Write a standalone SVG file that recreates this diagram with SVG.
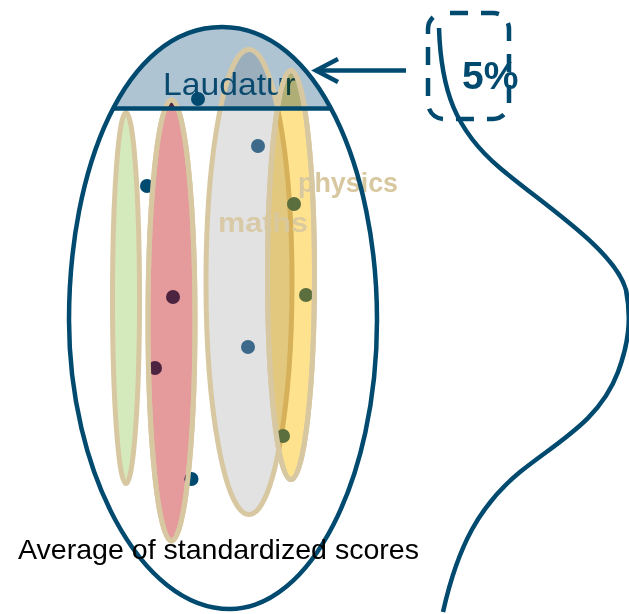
<svg xmlns="http://www.w3.org/2000/svg" width="629" height="614" viewBox="0 0 629 614">
<style>
.blue{stroke:#004a70;fill:none;stroke-width:4.5}
.ell{stroke:#d7c8a2;stroke-width:5}
.mul{mix-blend-mode:multiply}
.dot{stroke:none}
.lbl{font-family:"Liberation Sans",Arial,sans-serif;font-weight:bold;fill:#d8c8a0}
.txt{font-family:"Liberation Sans",Arial,sans-serif}
</style>
<defs>
<path id="egg" d="M222,27 C318,27 377,170 377,320 C377,480 310,609 230,609 C140,609 69,470 69,320 C69,170 124,27 222,27 Z"/>
<clipPath id="eggClip"><use href="#egg"/></clipPath>
<clipPath id="redClip"><ellipse cx="171.5" cy="320.5" rx="23.5" ry="220.5"/></clipPath>
<clipPath id="capClip"><rect x="0" y="0" width="629" height="108.5"/></clipPath>
</defs>

<g id="laudatur-cap">
<rect x="60" y="0" width="330" height="108.5" fill="#afc4d3" clip-path="url(#eggClip)"/>
</g>

<g id="green-ellipse"><ellipse class="ell" cx="126" cy="298" rx="13.5" ry="185.5" fill="#d5eabc"/></g>
<g id="red-ellipse">
<ellipse class="ell" cx="171.5" cy="320.5" rx="23.5" ry="220.5" fill="#e59b9c"/>
<g clip-path="url(#capClip)"><ellipse cx="171.5" cy="320.5" rx="21" ry="218" fill="#4c2440"/></g>
</g>
<g id="grey-ellipse">
<ellipse class="mul" cx="249" cy="282" rx="43" ry="232.5" fill="#e2e2e2"/>
<ellipse class="ell" cx="249" cy="282" rx="43" ry="232.5" fill="none"/>
</g>

<g id="laudatur-label">
<text class="txt" x="163" y="95" font-size="32" fill="#0b4a6f" textLength="133" lengthAdjust="spacingAndGlyphs">Laudatur</text>
</g>

<g id="yellow-ellipse">
<ellipse class="mul" cx="291" cy="275" rx="23.5" ry="204.5" fill="#ffe28e"/>
<ellipse class="ell" cx="291" cy="275" rx="23.5" ry="204.5" fill="none"/>
</g>

<g id="dots">
<circle class="dot" cx="198" cy="99" r="7" fill="#004a70"/>
<circle class="dot" cx="258" cy="146" r="7" fill="#3d6a8a"/>
<circle class="dot" cx="147" cy="186" r="7" fill="#004a70"/>
<circle class="dot" cx="294" cy="204" r="7" fill="#5b6e3d"/>
<circle class="dot" cx="173" cy="297" r="7" fill="#4c2440"/>
<circle class="dot" cx="306" cy="295" r="7" fill="#5b6e3d"/>
<circle class="dot" cx="155" cy="368" r="7" fill="#4c2440"/>
<circle class="dot" cx="248" cy="347" r="7" fill="#3d6a8a"/>
<circle class="dot" cx="283" cy="436" r="7" fill="#5b6e3d"/>
<circle class="dot" cx="191.5" cy="479" r="7" fill="#004a70"/>
<circle class="dot" cx="191.5" cy="479" r="7" fill="#4c2440" clip-path="url(#redClip)"/>
</g>

<g id="outlines">
<ellipse class="ell" cx="171.5" cy="320.5" rx="23.5" ry="220.5" fill="none"/>
<ellipse class="ell" cx="291" cy="275" rx="23.5" ry="204.5" fill="none"/>
</g>

<g id="labels">
<text class="lbl" x="298" y="192" font-size="28" textLength="100" lengthAdjust="spacingAndGlyphs">physics</text>
<text class="lbl" x="218" y="232" font-size="28" textLength="90" lengthAdjust="spacingAndGlyphs" opacity="0.9">maths</text>
</g>

<g id="population">
<use href="#egg" class="blue" stroke-width="5"/>
<line class="blue" x1="60" y1="108.5" x2="390" y2="108.5" clip-path="url(#eggClip)"/>
</g>

<g id="box-5pct">
<rect x="428" y="13" width="81" height="106" rx="16" class="blue" stroke-width="5" stroke-dasharray="18 13" stroke-dashoffset="-6"/>
<text class="txt" x="462" y="89" font-size="39" font-weight="bold" fill="#004a70">5%</text>
</g>

<g id="connectors">
<line class="blue" x1="406" y1="70.5" x2="318" y2="70.5" stroke-width="5"/>
<polyline class="blue" points="338,59 316,70.5 338,82" stroke-width="5"/>
<path class="blue" d="M439,28 C441,90 455,130 500,168 S615,250 626,290 C632,320 628,345 618,372 C600,420 560,440 520,472 C480,505 458,545 443,612"/>
</g>

<text class="txt" x="18" y="559" font-size="28.5" fill="#000" textLength="401" lengthAdjust="spacingAndGlyphs">Average of standardized scores</text>
</svg>
